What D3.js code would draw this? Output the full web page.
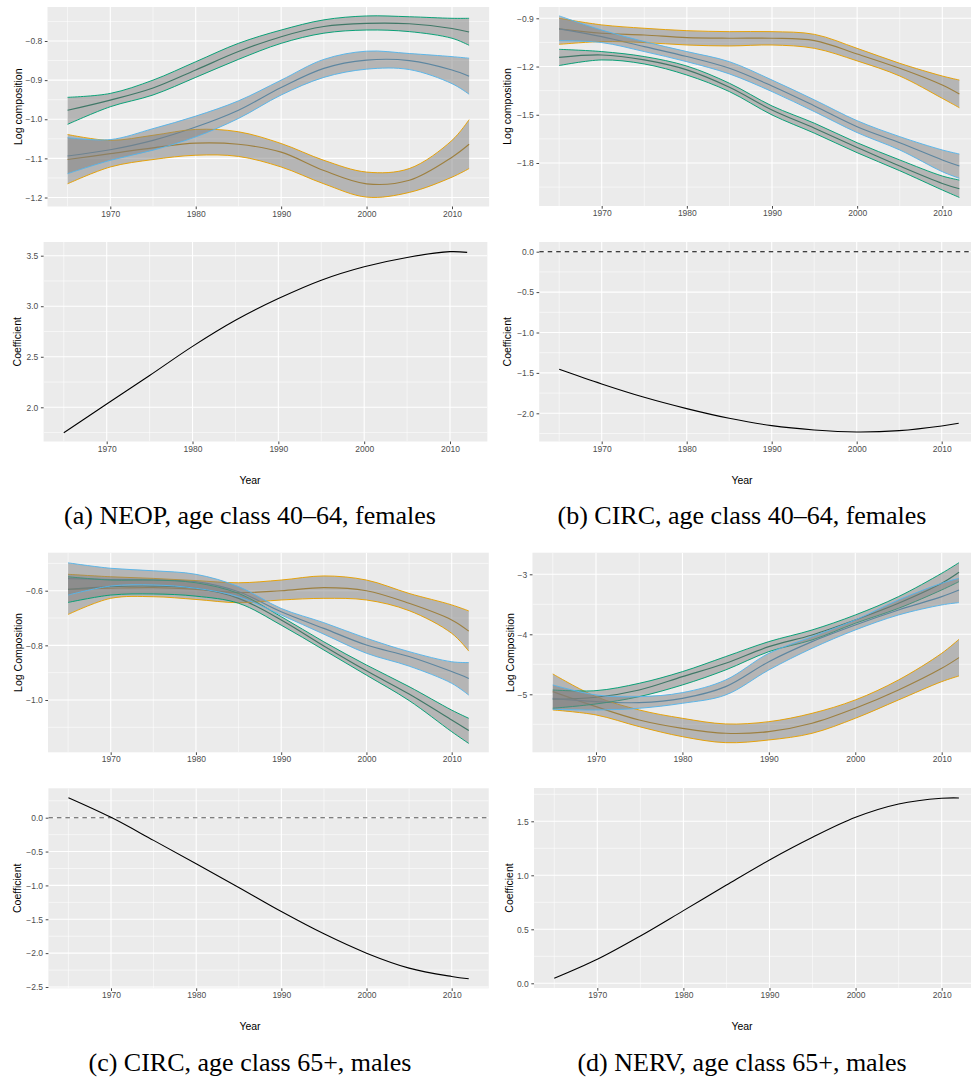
<!DOCTYPE html>
<html><head><meta charset="utf-8">
<script src="https://cdn.jsdelivr.net/npm/d3@7"></script>
<style>body{margin:0;background:#fff;}svg{display:block;}</style>
</head><body>
<svg id="c" width="971" height="1079"></svg>
<script>
// ---------- data ----------
const years = [1965,1970,1975,1980,1985,1990,1995,2000,2005,2010,2012];
const xTicks = [1970,1980,1990,2000,2010];

// (a) NEOP, 40-64, females
const aGreenHi  = [-0.944,-0.934,-0.900,-0.853,-0.806,-0.772,-0.746,-0.736,-0.738,-0.742,-0.742];
const aGreenMid = [-0.977,-0.951,-0.920,-0.874,-0.827,-0.789,-0.763,-0.755,-0.756,-0.768,-0.777];
const aGreenLo  = [-1.013,-0.968,-0.938,-0.893,-0.847,-0.806,-0.780,-0.772,-0.776,-0.793,-0.811];
const aBlueHi   = [-1.047,-1.052,-1.024,-0.992,-0.953,-0.900,-0.847,-0.826,-0.832,-0.840,-0.844];
const aBlueMid  = [-1.094,-1.078,-1.054,-1.020,-0.977,-0.919,-0.870,-0.849,-0.850,-0.874,-0.890];
const aBlueLo   = [-1.139,-1.105,-1.079,-1.045,-0.998,-0.938,-0.893,-0.872,-0.873,-0.909,-0.936];
const aOrangeHi = [-1.039,-1.054,-1.041,-1.026,-1.032,-1.062,-1.105,-1.135,-1.126,-1.054,-1.001];
const aOrangeMid= [-1.103,-1.088,-1.073,-1.061,-1.064,-1.084,-1.131,-1.165,-1.156,-1.097,-1.064];
const aOrangeLo = [-1.165,-1.122,-1.103,-1.092,-1.095,-1.122,-1.165,-1.199,-1.187,-1.148,-1.126];
const aCoef     = [1.748,2.033,2.315,2.603,2.861,3.076,3.258,3.391,3.483,3.540,3.533];
const aYTicksTop = [-1.2,-1.1,-1.0,-0.9,-0.8];
const aYTicksBot = [2.0,2.5,3.0,3.5];

// (b) CIRC, 40-64, females
const bOrangeHi = [-0.900,-0.941,-0.962,-0.977,-0.983,-0.983,-1.000,-1.087,-1.180,-1.259,-1.284];
const bOrangeMid= [-0.966,-0.993,-1.004,-1.020,-1.024,-1.024,-1.039,-1.122,-1.211,-1.315,-1.371];
const bOrangeLo = [-1.062,-1.045,-1.051,-1.066,-1.072,-1.066,-1.087,-1.165,-1.259,-1.398,-1.456];
const bBlueHi   = [-0.885,-0.973,-1.045,-1.107,-1.170,-1.284,-1.408,-1.537,-1.636,-1.719,-1.744];
const bBlueMid  = [-0.966,-1.014,-1.076,-1.138,-1.211,-1.321,-1.445,-1.574,-1.674,-1.781,-1.819];
const bBlueLo   = [-1.039,-1.051,-1.107,-1.170,-1.246,-1.356,-1.481,-1.611,-1.719,-1.854,-1.895];
const bGreenHi  = [-1.093,-1.107,-1.138,-1.197,-1.304,-1.445,-1.553,-1.674,-1.781,-1.881,-1.906];
const bGreenMid = [-1.143,-1.128,-1.159,-1.221,-1.329,-1.470,-1.584,-1.703,-1.819,-1.927,-1.960];
const bGreenLo  = [-1.194,-1.159,-1.184,-1.253,-1.356,-1.501,-1.615,-1.736,-1.848,-1.968,-2.014];
const bCoef     = [-1.456,-1.637,-1.802,-1.942,-2.062,-2.153,-2.206,-2.231,-2.214,-2.157,-2.124];
const bYTicksTop = [-1.8,-1.5,-1.2,-0.9];
const bYTicksBot = [-2.0,-1.5,-1.0,-0.5,0.0];

// (c) CIRC, 65+, males
const cOrangeHi = [-0.540,-0.549,-0.555,-0.563,-0.571,-0.561,-0.546,-0.561,-0.610,-0.652,-0.674];
const cOrangeMid= [-0.595,-0.591,-0.589,-0.595,-0.607,-0.600,-0.589,-0.600,-0.646,-0.707,-0.748];
const cOrangeLo = [-0.687,-0.628,-0.622,-0.632,-0.644,-0.634,-0.628,-0.634,-0.673,-0.756,-0.821];
const cBlueHi   = [-0.498,-0.518,-0.527,-0.540,-0.585,-0.665,-0.717,-0.774,-0.823,-0.860,-0.863];
const cBlueMid  = [-0.556,-0.559,-0.561,-0.567,-0.604,-0.677,-0.738,-0.799,-0.841,-0.896,-0.921];
const cBlueLo   = [-0.616,-0.583,-0.579,-0.591,-0.622,-0.689,-0.759,-0.829,-0.876,-0.939,-0.982];
const cGreenHi  = [-0.549,-0.561,-0.561,-0.571,-0.610,-0.695,-0.787,-0.872,-0.951,-1.037,-1.067];
const cGreenMid = [-0.595,-0.585,-0.583,-0.591,-0.628,-0.707,-0.802,-0.893,-0.978,-1.073,-1.112];
const cGreenLo  = [-0.643,-0.616,-0.612,-0.620,-0.646,-0.726,-0.817,-0.909,-1.002,-1.116,-1.159];
const cCoef     = [0.295,0.005,-0.335,-0.680,-1.030,-1.386,-1.715,-2.000,-2.221,-2.344,-2.378];
const cYTicksTop = [-1.0,-0.8,-0.6];
const cYTicksBot = [-2.5,-2.0,-1.5,-1.0,-0.5,0.0];

// (d) NERV, 65+, males
const dOrangeHi = [-4.661,-5.039,-5.261,-5.400,-5.494,-5.456,-5.317,-5.094,-4.761,-4.317,-4.083];
const dOrangeMid= [-4.956,-5.206,-5.428,-5.567,-5.650,-5.622,-5.483,-5.233,-4.928,-4.567,-4.389];
const dOrangeLo = [-5.261,-5.344,-5.539,-5.706,-5.806,-5.761,-5.650,-5.400,-5.094,-4.789,-4.694];
const dBlueHi   = [-4.844,-5.011,-5.039,-4.972,-4.761,-4.317,-4.039,-3.761,-3.428,-3.150,-3.067];
const dBlueMid  = [-5.067,-5.122,-5.139,-5.067,-4.872,-4.456,-4.122,-3.844,-3.594,-3.372,-3.261];
const dBlueLo   = [-5.250,-5.261,-5.233,-5.150,-5.011,-4.594,-4.233,-3.928,-3.678,-3.511,-3.472];
const dGreenHi  = [-4.928,-4.939,-4.817,-4.622,-4.372,-4.122,-3.928,-3.678,-3.372,-2.983,-2.806];
const dGreenMid = [-5.083,-5.050,-4.928,-4.706,-4.483,-4.206,-4.011,-3.761,-3.483,-3.150,-2.967];
const dGreenLo  = [-5.233,-5.161,-5.039,-4.844,-4.594,-4.289,-4.094,-3.817,-3.567,-3.261,-3.122];
const dCoef     = [0.046,0.222,0.438,0.673,0.910,1.142,1.352,1.537,1.660,1.713,1.716];
const dYTicksTop = [-5,-4,-3];
const dYTicksBot = [0.0,0.5,1.0,1.5];

const captions = ["(a) NEOP, age class 40\u201364, females","(b) CIRC, age class 40\u201364, females",
                  "(c) CIRC, age class 65+, males","(d) NERV, age class 65+, males"];

// ---------- drawing ----------
const COL = {green:"#009E73", blue:"#56B4E9", orange:"#E69F00"};
const MID = {green:"#00704f", blue:"#3a8cc0", orange:"#bb8000"};
const svg = d3.select("#c");
const defs = svg.append("defs");
const FONT = "'Liberation Sans', Arial, Helvetica, sans-serif";
const xDomainFull = [1962.65, 2014.35];

function drawPanel(p, idx){
  const x = d3.scaleLinear().domain([1970,2010]).range(p.xCal);
  const y = d3.scaleLinear().domain([p.yCal[0][0], p.yCal[1][0]]).range([p.yCal[0][1], p.yCal[1][1]]);
  const L = x(xDomainFull[0]), R = x(xDomainFull[1]);
  const T = p.top, B = p.bot;
  const g = svg.append("g");
  const cid = "clip"+idx;
  defs.append("clipPath").attr("id",cid).append("rect").attr("x",L).attr("y",T).attr("width",R-L).attr("height",B-T);
  g.append("rect").attr("x",L).attr("y",T).attr("width",R-L).attr("height",B-T).attr("fill","#EBEBEB");

  const yTop = y.invert(T), yBot = y.invert(B);
  const yMin = Math.min(yTop,yBot), yMax = Math.max(yTop,yBot);
  const yt = p.yTicks;
  const step = yt[1]-yt[0];
  const yMinor = [yt[0]-step/2].concat(yt.map(v=>v+step/2)).filter(v=>v>yMin && v<yMax);
  const xMinor = [1965,1975,1985,1995,2005];
  const grid = g.append("g").attr("clip-path",`url(#${cid})`);
  grid.selectAll(".ymin").data(yMinor).join("line")
    .attr("x1",L).attr("x2",R).attr("y1",d=>y(d)).attr("y2",d=>y(d))
    .attr("stroke","#fff").attr("stroke-width",0.55);
  grid.selectAll(".xmin").data(xMinor).join("line")
    .attr("x1",d=>x(d)).attr("x2",d=>x(d)).attr("y1",T).attr("y2",B)
    .attr("stroke","#fff").attr("stroke-width",0.55);
  grid.selectAll(".ymaj").data(yt).join("line")
    .attr("x1",L).attr("x2",R).attr("y1",d=>y(d)).attr("y2",d=>y(d))
    .attr("stroke","#fff").attr("stroke-width",1.1);
  grid.selectAll(".xmaj").data(xTicks).join("line")
    .attr("x1",d=>x(d)).attr("x2",d=>x(d)).attr("y1",T).attr("y2",B)
    .attr("stroke","#fff").attr("stroke-width",1.1);

  const data = g.append("g").attr("clip-path",`url(#${cid})`);
  const curve = d3.curveCatmullRom.alpha(0.5);
  if (p.bands){
    const line = arr => d3.line().x((d,i)=>x(years[i])).y(d=>y(d)).curve(curve)(arr);
    p.bands.forEach(b=>{
      data.append("path").attr("d",line(b.mid)).attr("fill","none").attr("stroke",MID[b.key]).attr("stroke-width",1.15);
    });
    p.bands.forEach(b=>{
      const area = d3.area().x((d,i)=>x(years[i])).y0((d,i)=>y(b.lo[i])).y1((d,i)=>y(b.hi[i])).curve(curve);
      data.append("path").attr("d",area(years)).attr("fill","#7F7F7F").attr("fill-opacity",0.5);
      data.append("path").attr("d",line(b.hi)).attr("fill","none").attr("stroke",COL[b.key]).attr("stroke-width",0.95);
      data.append("path").attr("d",line(b.lo)).attr("fill","none").attr("stroke",COL[b.key]).attr("stroke-width",0.95);
    });
  }
  if (p.hline){
    data.append("line").attr("x1",L).attr("x2",R).attr("y1",y(0)).attr("y2",y(0))
      .attr("stroke",p.hline).attr("stroke-width",1.1).attr("stroke-dasharray","4.5,4");
  }
  if (p.coef){
    const line = d3.line().x((d,i)=>x(years[i])).y(d=>y(d)).curve(curve);
    data.append("path").attr("d",line(p.coef)).attr("fill","none").attr("stroke","#000").attr("stroke-width",1.1);
  }

  const ax = g.append("g").attr("transform",`translate(${L},0)`)
    .call(d3.axisLeft(y).tickValues(yt).tickFormat(d3.format(p.fmt)).tickSize(2.7).tickPadding(2.6));
  const bx = g.append("g").attr("transform",`translate(0,${B})`)
    .call(d3.axisBottom(x).tickValues(xTicks).tickFormat(d3.format("d")).tickSize(2.7).tickPadding(1.4));
  [ax,bx].forEach(a=>{
    a.select(".domain").remove();
    a.selectAll("line").attr("stroke","#333333").attr("stroke-width",0.9);
    a.selectAll("text").attr("fill","#4D4D4D").style("font-family",FONT).style("font-size","8.5px");
  });

  g.append("text").attr("transform",`translate(${p.tx},${(T+B)/2}) rotate(-90)`)
    .attr("text-anchor","middle").attr("dy","0.35em")
    .style("font-family",FONT).style("font-size","10.5px").attr("fill","#000").text(p.title);
  if (p.year){
    g.append("text").attr("x",p.year[0]).attr("y",p.year[1]).attr("text-anchor","middle")
      .style("font-family",FONT).style("font-size","10.5px").attr("fill","#000").text("Year");
  }
}

const band = (lo,mid,hi,key)=>({lo,mid,hi,key});

const panels = [
  {xCal:[110.3,452], yCal:[[-1.2,197.5],[-0.8,41]], top:7, bot:206.5, yTicks:aYTicksTop, fmt:".1f",
   title:"Log composition", tx:18,
   bands:[band(aOrangeLo,aOrangeMid,aOrangeHi,"orange"), band(aGreenLo,aGreenMid,aGreenHi,"green"), band(aBlueLo,aBlueMid,aBlueHi,"blue")]},
  {xCal:[106.7,450], yCal:[[2.0,407.3],[3.5,255.7]], top:242, bot:441.5, yTicks:aYTicksBot, fmt:".1f",
   title:"Coefficient", tx:17.5, coef:aCoef, year:[250,484]},
  {xCal:[601.7,942.3], yCal:[[-1.8,163],[-0.9,18.3]], top:7, bot:206, yTicks:bYTicksTop, fmt:".1f",
   title:"Log composition", tx:507.5,
   bands:[band(bOrangeLo,bOrangeMid,bOrangeHi,"orange"), band(bGreenLo,bGreenMid,bGreenHi,"green"), band(bBlueLo,bBlueMid,bBlueHi,"blue")]},
  {xCal:[601.7,941.7], yCal:[[-2.0,413.3],[0,251.7]], top:242, bot:441.5, yTicks:bYTicksBot, fmt:".1f",
   title:"Coefficient", tx:507.5, coef:bCoef, hline:"#000", year:[742,484]},
  {xCal:[110.7,451.7], yCal:[[-1.0,700],[-0.6,590.7]], top:552.7, bot:752.3, yTicks:cYTicksTop, fmt:".1f",
   title:"Log Composition", tx:18,
   bands:[band(cOrangeLo,cOrangeMid,cOrangeHi,"orange"), band(cGreenLo,cGreenMid,cGreenHi,"green"), band(cBlueLo,cBlueMid,cBlueHi,"blue")]},
  {xCal:[111,451.7], yCal:[[-2.5,987],[0,817.7]], top:788.3, bot:988.3, yTicks:cYTicksBot, fmt:".1f",
   title:"Coefficient", tx:17.5, coef:cCoef, hline:"#555", year:[250,1030]},
  {xCal:[596,941.7], yCal:[[-5,694.3],[-3,574.3]], top:552.7, bot:752.3, yTicks:dYTicksTop, fmt:".0f",
   title:"Log Composition", tx:510,
   bands:[band(dOrangeLo,dOrangeMid,dOrangeHi,"orange"), band(dGreenLo,dGreenMid,dGreenHi,"green"), band(dBlueLo,dBlueMid,dBlueHi,"blue")]},
  {xCal:[597.3,941.7], yCal:[[0,983.3],[1.5,821.3]], top:788, bot:988, yTicks:dYTicksBot, fmt:".1f",
   title:"Coefficient", tx:509, coef:dCoef, year:[742,1030]}
];
panels.forEach(drawPanel);

const capPos = [[250,524],[742,524],[250,1071],[742,1071]];
svg.selectAll(".cap").data(captions).join("text")
  .attr("x",(d,i)=>capPos[i][0]).attr("y",(d,i)=>capPos[i][1]).attr("text-anchor","middle")
  .style("font-family","'Liberation Serif','Times New Roman',serif").style("font-size","26px")
  .attr("fill","#000").text(d=>d);
</script>
</body></html>
